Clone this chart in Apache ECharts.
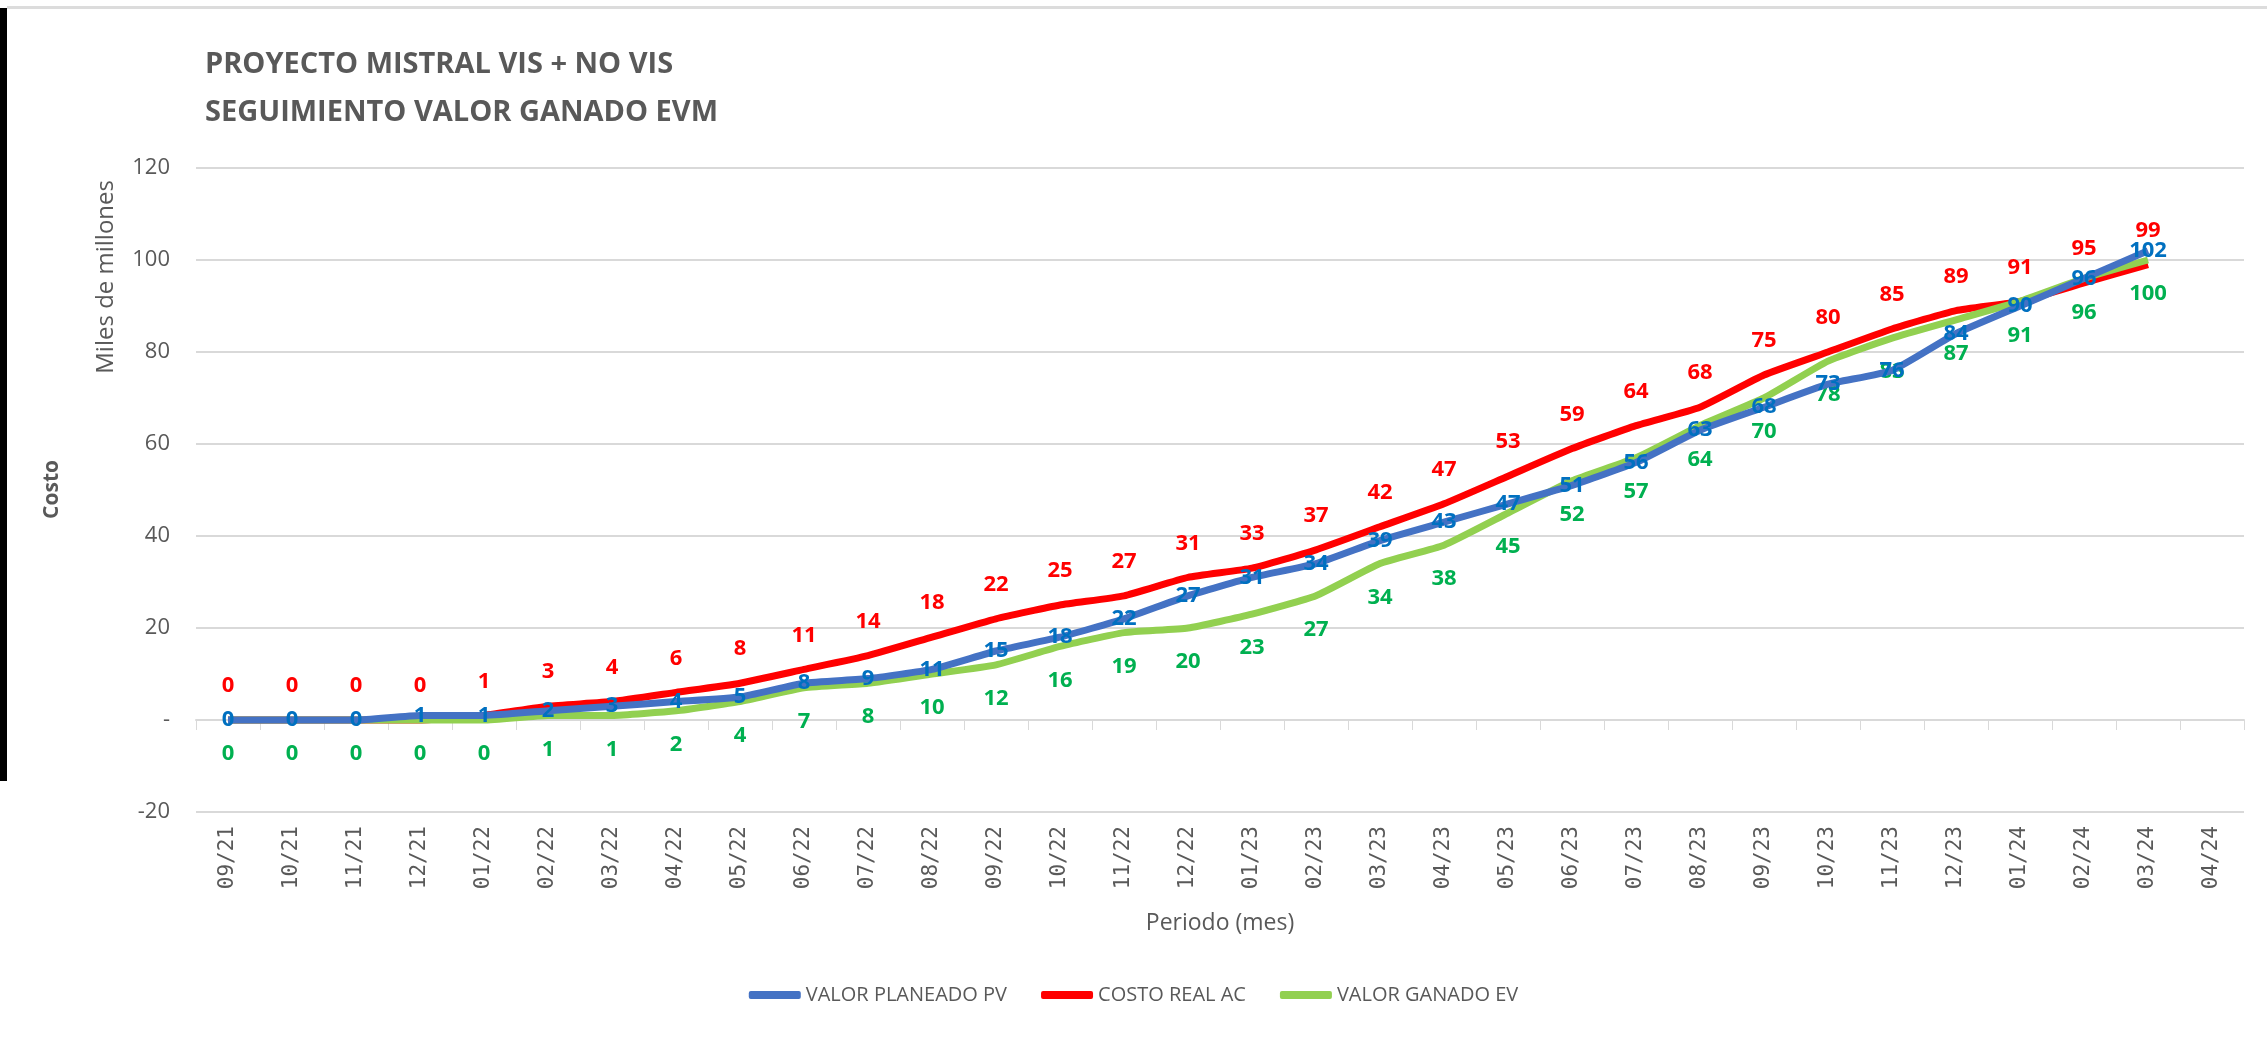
<!DOCTYPE html>
<html>
<head>
<meta charset="utf-8">
<title>EVM Mistral</title>
<script src="https://cdn.jsdelivr.net/npm/echarts@6/dist/echarts.min.js"></script>
<style>
  html, body { margin: 0; padding: 0; background: #fff; }
  #chartBox { width: 2267px; height: 1038px; }
</style>
</head>
<body>
<div id="chartBox"></div>
<script>
  // periodos (mes)
  var months = ['09/21', '10/21', '11/21', '12/21', '01/22', '02/22', '03/22', '04/22', '05/22', '06/22',
    '07/22', '08/22', '09/22', '10/22', '11/22', '12/22', '01/23', '02/23', '03/23', '04/23', '05/23',
    '06/23', '07/23', '08/23', '09/23', '10/23', '11/23', '12/23', '01/24', '02/24', '03/24', '04/24'];

  // miles de millones
  var plannedPV = [0, 0, 0, 1, 1, 2, 3, 4, 5, 8, 9, 11, 15, 18, 22, 27, 31, 34, 39, 43, 47, 51, 56, 63, 68, 73, 76, 84, 90, 96, 102];
  var actualAC = [0, 0, 0, 0, 1, 3, 4, 6, 8, 11, 14, 18, 22, 25, 27, 31, 33, 37, 42, 47, 53, 59, 64, 68, 75, 80, 85, 89, 91, 95, 99];
  var earnedEV = [0, 0, 0, 0, 0, 1, 1, 2, 4, 7, 8, 10, 12, 16, 19, 20, 23, 27, 34, 38, 45, 52, 57, 64, 70, 78, 83, 87, 91, 96, 100];

  var yTicks = { min: -20, max: 120, step: 20 };

  var chartDom = document.getElementById('chartBox');
  var myChart = echarts.init(chartDom);

  function mkSeries(name, data, lineColor, labelColor, pos, z) {
    return {
      name: name,
      type: 'line',
      data: data,
      symbol: 'circle',
      symbolSize: 0,
      showSymbol: true,
      smooth: 0.15,
      z: z,
      lineStyle: { color: lineColor, width: 7 },
      itemStyle: { color: lineColor },
      label: {
        show: true,
        position: pos,
        distance: 23,
        color: labelColor,
        fontFamily: 'Open Sans',
        fontWeight: 'bold',
        fontSize: 22
      }
    };
  }

  myChart.setOption({
    animation: false,
    textStyle: { fontFamily: 'Open Sans' },
    title: {
      text: 'PROYECTO MISTRAL VIS + NO VIS\nSEGUIMIENTO VALOR GANADO EVM',
      left: 200,
      top: 36,
      textStyle: {
        color: '#595959',
        fontFamily: 'Open Sans',
        fontWeight: 'bold',
        fontSize: 29,
        lineHeight: 48
      }
    },
    legend: {
      bottom: 28,
      left: 'center',
      itemGap: 34,
      icon: 'roundRect',
      itemWidth: 52,
      itemHeight: 8,
      textStyle: { color: '#595959', fontSize: 20 },
      data: ['VALOR PLANEADO PV', 'COSTO REAL AC', 'VALOR GANADO EV']
    },
    grid: {
      top: 168,
      left: 196,
      right: 23,
      bottom: 226
    },
    xAxis: {
      type: 'category',
      data: months,
      boundaryGap: true,
      name: 'Periodo (mes)',
      nameLocation: 'middle',
      nameGap: 100,
      nameTextStyle: { color: '#595959', fontSize: 23 },
      axisLine: { lineStyle: { color: '#d9d9d9', width: 2 } },
      axisTick: { show: true, lineStyle: { color: '#d9d9d9', width: 1 }, length: 10 },
      axisLabel: {
        rotate: 90,
        color: '#595959',
        fontFamily: 'DejaVu Sans Mono',
        fontSize: 21,
        margin: 14
      }
    },
    yAxis: {
      type: 'value',
      min: yTicks.min,
      max: yTicks.max,
      interval: yTicks.step,
      axisLine: { show: false },
      axisTick: { show: false },
      splitLine: { lineStyle: { color: '#d9d9d9', width: 2 } },
      axisLabel: {
        color: '#595959',
        fontSize: 22,
        margin: 26,
        formatter: function (v) { return v === 0 ? '-' : v; }
      }
    },
    graphic: [
      { type: 'rect', left: 0, top: 8, shape: { width: 7, height: 773 }, style: { fill: '#000' } },
      { type: 'rect', left: 7, top: 6, shape: { width: 2260, height: 3 }, style: { fill: '#dcdcdc' } },
      {
        type: 'text', left: 94, top: 180, rotation: Math.PI / 2,
        style: { text: 'Miles de millones', fill: '#595959', font: '24px "Open Sans"' }
      },
      {
        type: 'text', left: 42, top: 460, rotation: Math.PI / 2,
        style: { text: 'Costo', fill: '#595959', font: 'bold 21px "Open Sans"' }
      }
    ],
    series: [
      mkSeries('VALOR PLANEADO PV', plannedPV, '#4472C4', '#0070C0', 'inside', 3),
      mkSeries('COSTO REAL AC', actualAC, '#FF0000', '#FF0000', 'top', 2),
      mkSeries('VALOR GANADO EV', earnedEV, '#92D050', '#00B050', 'bottom', 2)
    ]
  });
</script>
</body>
</html>
